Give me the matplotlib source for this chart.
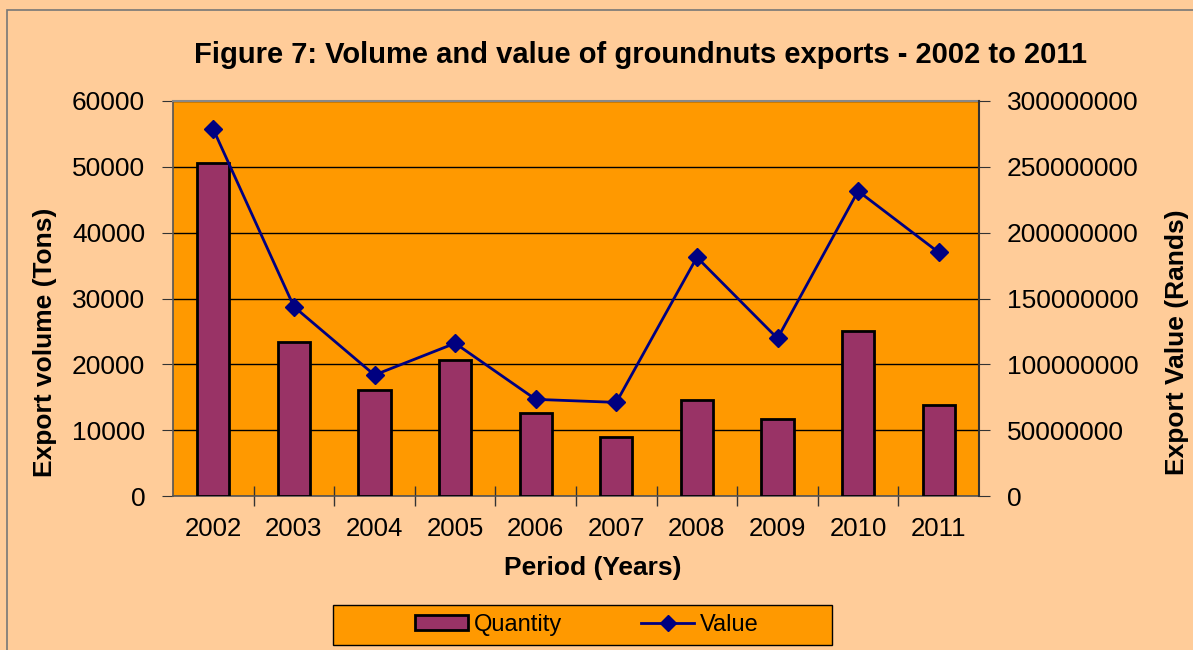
import matplotlib
matplotlib.use("Agg")
import matplotlib.pyplot as plt
from matplotlib.patches import Rectangle, Patch
from matplotlib.lines import Line2D
import numpy as np

years = ["2002", "2003", "2004", "2005", "2006", "2007", "2008", "2009", "2010", "2011"]
quantity = [50600, 23400, 16100, 20650, 12600, 8900, 14550, 11700, 25100, 13800]
value = [278500000, 143800000, 91900000, 116000000, 73400000, 71100000, 181300000, 119700000, 231600000, 185000000]

left_ticks = [0, 10000, 20000, 30000, 40000, 50000, 60000]
right_ticks = [0, 50000000, 100000000, 150000000, 200000000, 250000000, 300000000]

plt.rcParams['font.family'] = ['Liberation Sans', 'DejaVu Sans']

W, H = 1193, 650
fig = plt.figure(figsize=(W / 100, H / 100), dpi=100)
fig.patch.set_facecolor('#FFCC99')

# outer border
fig.patches.append(Rectangle((7 / W, -0.1), 1.2, 1 - 10 / H + 0.1, transform=fig.transFigure,
                             fill=False, edgecolor='#777777', linewidth=1.2, zorder=0))

ax = fig.add_axes([173 / W, 1 - 496 / H, (979 - 173) / W, (496 - 101) / H])
ax.set_facecolor('#FF9900')
x = np.arange(len(years))
ax.bar(x, quantity, width=0.4, color='#993366', edgecolor='black', linewidth=2, zorder=3)
ax.set_xlim(-0.5, len(years) - 0.5)
ax.set_ylim(0, 60000)
ax.set_yticks(left_ticks)
ax.set_yticklabels([str(t) for t in left_ticks])
ax.set_xticks(x)
ax.set_xticklabels(years)
ax.set_xticks(np.arange(len(years) - 1) + 0.5, minor=True)
ax.tick_params(axis='x', which='major', length=0, labelsize=18.5, pad=15)
ax.tick_params(axis='x', which='minor', length=14, direction='inout', color='#333333', width=1)
ax.tick_params(axis='y', labelsize=19, length=8, direction='out', color='#333333', pad=12)
ax.grid(axis='y', color='black', linewidth=1, zorder=1)
ax.set_axisbelow(True)
for s in ['left', 'bottom']:
    ax.spines[s].set_color('#555555')
    ax.spines[s].set_linewidth(1.2)
ax.spines['top'].set_color('#888888')
ax.spines['top'].set_linewidth(1.5)
ax.spines['right'].set_visible(False)

ax2 = ax.twinx()
ax2.plot(x, value, color='#000080', linewidth=2, marker='D', markersize=9,
         markerfacecolor='#000080', markeredgecolor='#000080', zorder=5)
ax2.set_ylim(0, 300000000)
ax2.set_yticks(right_ticks)
ax2.set_yticklabels([str(t) for t in right_ticks])
ax2.tick_params(axis='y', labelsize=19, length=8, direction='out', color='#333333', pad=12)
ax2.spines['right'].set_color('#333333')
ax2.spines['right'].set_linewidth(1.5)
for s in ['left', 'bottom', 'top']:
    ax2.spines[s].set_visible(False)

fig.text(640 / W, 1 - 55 / H, "Figure 7: Volume and value of groundnuts exports - 2002 to 2011",
         ha='center', va='center', fontsize=21, fontweight='bold')
fig.text(45 / W, 1 - 342 / H, "Export volume (Tons)", ha='center', va='center', rotation=90,
         fontsize=19, fontweight='bold')
fig.text(1177 / W, 1 - 342 / H, "Export Value (Rands)", ha='center', va='center', rotation=90,
         fontsize=19, fontweight='bold')
fig.text(593 / W, 1 - 568 / H, "Period (Years)", ha='center', va='center',
         fontsize=19, fontweight='bold')

# legend box
fig.patches.append(Rectangle((333 / W, 1 - 645 / H), (832 - 333) / W, 40 / H,
                             transform=fig.transFigure, facecolor='#FF9900', edgecolor='black',
                             linewidth=1, zorder=1))
handles = [Patch(facecolor='#993366', edgecolor='black', linewidth=2),
           Line2D([0], [0], color='#000080', linewidth=2, marker='D', markersize=8,
                  markerfacecolor='#000080')]
leg = fig.legend(handles, ["Quantity", "Value"], loc='center', bbox_to_anchor=(587 / W, 1 - 625 / H),
                 ncol=2, frameon=False, fontsize=17, handlelength=2.25, handletextpad=0.25,
                 columnspacing=3.35, handleheight=0.6)
leg.set_zorder(5)

fig.savefig("out.png", dpi=100, facecolor=fig.get_facecolor())
